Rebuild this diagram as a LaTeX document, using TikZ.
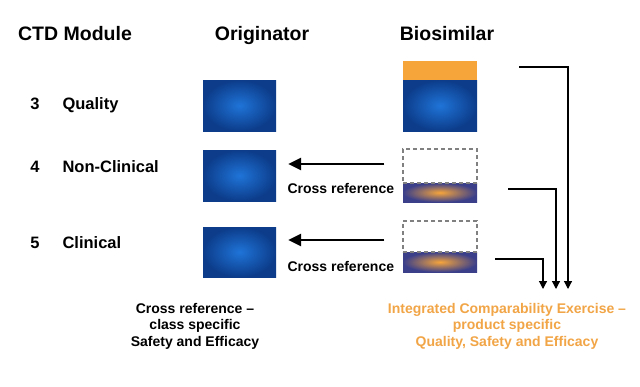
\documentclass[tikz,border=0pt]{standalone}
\usepackage{fontspec}
\setmainfont{Liberation Sans}
\usetikzlibrary{arrows.meta,positioning}

\definecolor{ctdblue}{HTML}{0C3C8A}
\definecolor{ctdlight}{HTML}{1F74D8}
\definecolor{ctdorange}{HTML}{F6A53B}
\definecolor{ctdpurple}{HTML}{3B3F8A}
\definecolor{ctdtext}{HTML}{F2A546}

\tikzset{
  head/.style={font=\fontsize{19.5}{22}\selectfont\bfseries, anchor=base},
  rowlab/.style={font=\fontsize{16.5}{19}\selectfont\bfseries, anchor=base},
  small/.style={font=\fontsize{14}{16.5}\selectfont\bfseries},
  bluebox/.style={rectangle, inner sep=0pt, minimum width=73pt,
    inner color=ctdlight, outer color=ctdblue},
  bar/.style={rectangle, inner sep=0pt, minimum width=74pt,
    inner color=ctdorange, outer color=ctdpurple},
  emptybox/.style={rectangle, inner sep=0pt, minimum width=74pt,
    draw=gray, line width=1.2pt, dash pattern=on 4pt off 3pt},
  crossarrow/.style={line width=2.7pt, -{Triangle[length=13pt,width=12pt]}},
  feed/.style={line width=1.2pt, -{Triangle[length=8pt,width=8pt]}}
}

\begin{document}
\begin{tikzpicture}[x=1pt,y=-1pt]
    \useasboundingbox[fill=white] (0,0) rectangle (640,386);

    % headings
    \node[head] (hctd) at (75,40) {CTD Module};
    \node[head] (hor) at (262,40) {Originator};
    \node[head] (hbs) at (447,40) {Biosimilar};

    % module rows
    \node[rowlab] (n3) at (35,109) {3};
    \node[rowlab, anchor=base west] (m3) at (59,109) {Quality};
    \node[rowlab] (n4) at (35,172) {4};
    \node[rowlab, anchor=base west] (m4) at (59,172) {Non-Clinical};
    \node[rowlab] (n5) at (35,248) {5};
    \node[rowlab, anchor=base west] (m5) at (59,248) {Clinical};

    % originator
    \node[bluebox, minimum height=51pt] (or3) at (239.5,105.5) {};
    \node[bluebox, minimum height=51pt] (or4) at (239.5,175.5) {};
    \node[bluebox, minimum height=50pt] (or5) at (239.5,252) {};

    % biosimilar
    \node[rectangle, inner sep=0pt, minimum width=74pt, minimum height=19pt,
      fill=ctdorange] (bstop) at (440,70.5) {};
    \node[bluebox, minimum width=74pt, minimum height=51pt] (bs3) at (440,105.5) {};
    \node[bar, minimum height=19pt] (bar4) at (440,192.5) {};
    \node[emptybox, minimum height=34pt] (bs4) at (440,166) {};
    \node[bar, minimum height=20pt] (bar5) at (440,262) {};
    \node[emptybox, minimum height=31pt] (bs5) at (440,236.5) {};

    % cross references
    \draw[crossarrow, shorten <=18pt, shorten >=12pt]
      ([yshift=2pt]bs4.west) -- ([yshift=2pt]bs4.west -| or4.east);
    \draw[crossarrow, shorten <=18pt, shorten >=12pt]
      ([yshift=-3.5pt]bs5.west) -- ([yshift=-3.5pt]bs5.west -| or5.east);
    \node[small, anchor=west] (cr4) at (284,188) {Cross reference};
    \node[small, anchor=west] (cr5) at (284,266) {Cross reference};

    % into the comparability exercise
    \coordinate (e3) at (568,289);
    \coordinate (e4) at (556,289);
    \coordinate (e5) at (543,289);
    \draw[feed, shorten <=42pt] ([yshift=3.5pt]bstop.east) -| (e3);
    \draw[feed, shorten <=31pt] ([yshift=3.5pt]bar4.east) -| (e4);
    \draw[feed, shorten <=18pt] ([yshift=3pt]bar5.east) -| (e5);

    % conclusions
    \node[small, align=center] (leftnote) at (195,326)
      {Cross reference --\\class specific\\Safety and Efficacy};
    \node[small, align=center, text=ctdtext] (rightnote) at (507,326)
      {Integrated Comparability Exercise --\\product specific\\Quality, Safety and Efficacy};

\end{tikzpicture}
\end{document}
